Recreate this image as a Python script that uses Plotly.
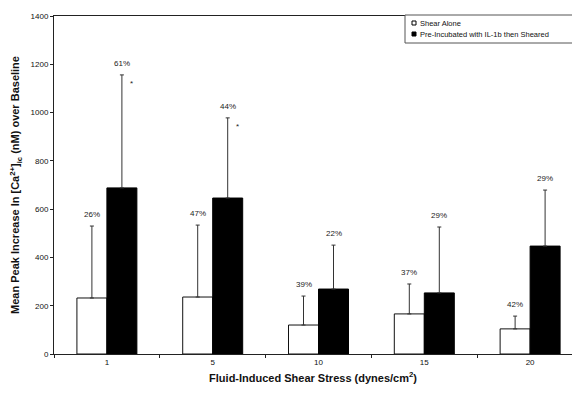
import plotly.graph_objects as go

# Shear stress levels (dynes/cm^2)
categories = ["1", "5", "10", "15", "20"]

# Mean peak increase in [Ca2+]ic (nM) over baseline
shear_alone = [232, 236, 120, 166, 104]
shear_alone_err = [298, 298, 120, 124, 53]
shear_alone_pct = ["26%", "47%", "39%", "37%", "42%"]

il1b_sheared = [688, 646, 269, 253, 447]
il1b_sheared_err = [468, 332, 182, 273, 232]
il1b_sheared_pct = ["61%", "44%", "22%", "29%", "29%"]

significant = ["1", "5"]

FONT = "Liberation Sans, Arial, sans-serif"
BAR_HALF_PX = 15

fig = go.Figure()
fig.add_trace(go.Bar(
    x=categories, y=shear_alone, name="Shear Alone",
    marker=dict(color="white", line=dict(color="#111", width=1)),
    error_y=dict(type="data", symmetric=False, array=shear_alone_err,
                 arrayminus=[0] * len(categories),
                 color="#333", thickness=1, width=2),
))
fig.add_trace(go.Bar(
    x=categories, y=il1b_sheared, name="Pre-Incubated with IL-1b then Sheared",
    marker=dict(color="black", line=dict(color="black", width=1)),
    error_y=dict(type="data", symmetric=False, array=il1b_sheared_err,
                 arrayminus=[0] * len(categories),
                 color="#333", thickness=1, width=2),
))

annotations = []
label_font = dict(size=8, color="#222", family=FONT)
# percentage labels above each error bar (x given as category index)
for i, (v, e, t) in enumerate(zip(shear_alone, shear_alone_err, shear_alone_pct)):
    annotations.append(dict(x=i, y=v + e, text=t, showarrow=False,
                            xshift=-BAR_HALF_PX, yshift=5, yanchor="bottom",
                            font=label_font))
for i, (v, e, t) in enumerate(zip(il1b_sheared, il1b_sheared_err, il1b_sheared_pct)):
    annotations.append(dict(x=i, y=v + e, text=t, showarrow=False,
                            xshift=BAR_HALF_PX, yshift=5, yanchor="bottom",
                            font=label_font))
# significance markers
for i, (cat, v, e) in enumerate(zip(categories, il1b_sheared, il1b_sheared_err)):
    if cat in significant:
        annotations.append(dict(x=i, y=v + e, text="*", showarrow=False,
                                xshift=BAR_HALF_PX + 10, yshift=-2, yanchor="top",
                                font=label_font))

# legend box
W, H, L, T, B = 572, 393, 54, 16, 39
pw, ph = W - L, H - T - B
def px(xp):
    return (xp - L) / pw
def py(yp):
    return (H - B - yp) / ph

shapes = [
    dict(type="rect", xref="paper", yref="paper",
         x0=px(405), x1=px(580), y0=py(43), y1=py(15),
         fillcolor="white", line=dict(color="#555", width=1), layer="above"),
    dict(type="rect", xref="paper", yref="paper",
         x0=px(412), x1=px(416), y0=py(25), y1=py(21),
         fillcolor="white", line=dict(color="black", width=1), layer="above"),
    dict(type="rect", xref="paper", yref="paper",
         x0=px(412), x1=px(416), y0=py(36), y1=py(32),
         fillcolor="black", line=dict(color="black", width=1), layer="above"),
]
annotations.append(dict(xref="paper", yref="paper", x=px(418), y=py(23),
                        text="Shear Alone", showarrow=False, xanchor="left",
                        yanchor="middle", font=dict(size=7.5, color="#111", family=FONT)))
annotations.append(dict(xref="paper", yref="paper", x=px(418), y=py(34),
                        text="Pre-Incubated with IL-1b then Sheared", showarrow=False,
                        xanchor="left", yanchor="middle",
                        font=dict(size=7.5, color="#111", family=FONT)))

fig.update_layout(
    width=W, height=H,
    margin=dict(l=L, r=0, t=T, b=B),
    paper_bgcolor="white", plot_bgcolor="white",
    barmode="group", bargap=0.433, bargroupgap=0,
    showlegend=False,
    font=dict(family=FONT, color="#111"),
    annotations=annotations,
    shapes=shapes,
    xaxis=dict(
        type="category", range=[-0.5, 4.396],
        showline=True, linecolor="#222", linewidth=1, mirror=True,
        ticks="outside", tickson="boundaries", ticklen=3, tickcolor="#222",
        showgrid=False, tickfont=dict(size=8, family=FONT),
        title=dict(text="<b>Fluid-Induced Shear Stress (dynes/cm<sup>2</sup>)</b>",
                   font=dict(size=11, family=FONT), standoff=8),
    ),
    yaxis=dict(
        range=[0, 1400], dtick=200,
        showline=True, linecolor="#222", linewidth=1,
        ticks="outside", ticklen=3, tickcolor="#222",
        showgrid=False, zeroline=False, tickfont=dict(size=8, family=FONT),
        title=dict(text="<b>Mean Peak Increase In [Ca<sup>2+</sup>]<sub>ic</sub> (nM) over Baseline</b>",
                   font=dict(size=11, family=FONT), standoff=8),
    ),
)

fig.write_html("out.html")
